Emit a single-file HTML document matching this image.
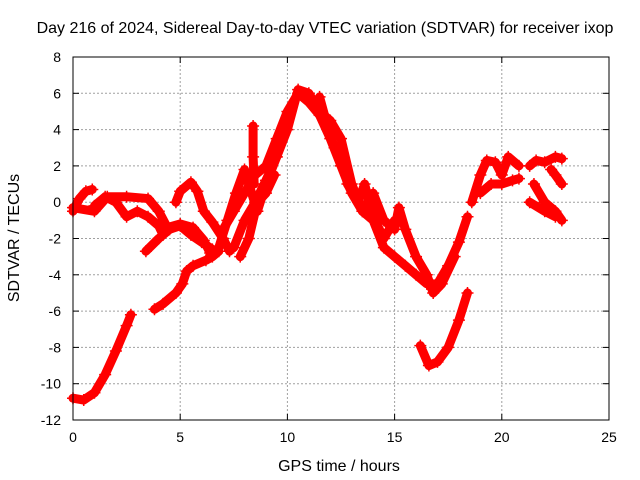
<!DOCTYPE html>
<html><head><meta charset="utf-8"><style>
body{margin:0;background:#fff;}
svg{display:block;font-family:"Liberation Sans",sans-serif;}
</style></head><body>
<svg id="chart" width="640" height="480">
<text x="325" y="33" font-size="16" text-anchor="middle">Day 216 of 2024, Sidereal Day-to-day VTEC variation (SDTVAR) for receiver ixop</text>
<text x="339" y="471" font-size="16" text-anchor="middle">GPS time / hours</text>
<text transform="translate(19,238) rotate(-90)" font-size="16" text-anchor="middle">SDTVAR / TECUs</text>
<g id="grid"></g><g id="ticks"></g><g id="series"></g>
<rect x="73" y="57" width="536" height="363" fill="none" stroke="#000"/>
</svg>
<script>
const xTicks=[0,5,10,15,20,25];
const yTicks=[-12,-10,-8,-6,-4,-2,0,2,4,6,8];
const trackA=[[0,-10.8],[0.5,-10.9],[1,-10.5],[1.5,-9.5],[2,-8.2],[2.5,-6.8],[2.7,-6.2]];
const trackB=[[3.8,-5.9],[4.2,-5.6],[4.8,-5],[5.1,-4.5],[5.3,-3.8],[5.6,-3.5],[6.2,-3.2],[6.5,-3],[6.8,-2.7]];
const trackC=[[0,-0.5],[0.3,0.2],[0.6,0.6],[0.9,0.7]];
const trackD=[[0,-0.3],[1,-0.5],[1.6,0.3],[2.5,0.3],[3.5,0.2],[4,-0.5],[4.4,-1.4],[5,-1.2],[5.6,-1.4],[6.1,-2.1],[6.4,-2.8]];
const trackE=[[1,-0.2],[1.5,0.3],[2,0],[2.5,-0.8],[3,-0.5],[3.5,-0.8],[4,-1.3],[4.2,-1.8]];
const trackF=[[3.4,-2.7],[4,-2],[4.5,-1.5],[5,-1.3],[5.5,-1.8],[6,-2.2],[6.5,-2.6]];
const trackG=[[4.8,0],[5,0.6],[5.5,1.1],[5.8,0.6],[6.1,-0.5],[6.5,-1.1],[7,-2],[7.3,-2.7]];
const trackH=[[7,-1.5],[7.5,-0.5],[8,0.5],[8.5,1.5],[9,2],[9.5,3.5],[10,5],[10.5,6],[11,5.5],[11.5,4.8],[12,3.5],[12.5,2],[13,0.5],[13.5,-0.5],[14,-1],[14.5,-2.5],[15,-3],[15.5,-3.5],[16,-4],[16.5,-4.5],[17,-4.5],[17.5,-3.5],[18,-2.2],[18.4,-0.8]];
const trackI=[[7.5,-2.5],[8,-1],[8.5,0],[9,1.2],[9.5,2.5],[10,4],[10.5,6.2],[11,6],[11.5,5],[12,4.5],[12.5,3.5],[13,1],[13.5,-0.5],[14,0.5],[14.5,-1],[15,-1.5],[15.2,-0.3],[15.5,-1.5],[16,-3],[16.5,-4],[16.8,-5],[17.2,-4.5],[17.8,-3]];
const trackJ=[[8.4,4.2],[8.4,2.5],[8.45,1]];
const trackK=[[16.2,-7.9],[16.6,-9],[17,-8.8],[17.5,-8],[18,-6.5],[18.4,-5]];
const trackL=[[18.6,0],[19,1.5],[19.3,2.3],[19.7,2.2],[20,1.5],[20.3,2.5],[20.8,2]];
const trackM=[[19,0.5],[19.5,1],[20,1],[20.5,1.2],[20.8,1.3]];
const trackN=[[21.3,2],[21.6,2.3],[22,2.2],[22.5,2.5],[22.8,2.4]];
const trackO=[[21.5,1],[22,0],[22.5,-0.5],[22.8,-1]];
const trackP=[[21.3,0],[22,-0.5],[22.5,-0.8]];
const trackQ=[[22.3,1.8],[22.5,1.5],[22.8,1]];
const trackR=[[6.8,-2.5],[7.2,-1],[7.6,0.5],[8,1.8],[8.2,1],[8.6,-0.5],[9,1],[9.5,2.5]];
const trackS=[[7.8,-3],[8.2,-2],[8.6,0],[9,0.5],[9.4,1.5]];
const trackT=[[11.5,5.8],[11.8,4.5],[12.2,3],[12.5,2.8],[12.8,1],[13.3,0],[13.6,1],[14,-0.8],[14.5,-2],[15,-1]];
const tracks=[trackA,trackB,trackC,trackD,trackE,trackF,trackG,trackH,trackI,trackJ,trackK,trackL,trackM,trackN,trackO,trackP,trackQ,trackR,trackS,trackT];
const X=v=>73+v/25*536, Y=v=>420-(v+12)/20*363;
const NS="http://www.w3.org/2000/svg";
const grid=document.getElementById('grid'),ticks=document.getElementById('ticks'),ser=document.getElementById('series');
function mk(tag,at,par){const e=document.createElementNS(NS,tag);for(const k in at)e.setAttribute(k,at[k]);par.appendChild(e);return e;}
xTicks.forEach(t=>{
 const g=mk('line',{x1:X(t),x2:X(t),y1:57,y2:420,stroke:'#a0a0a0','stroke-dasharray':'2,2'},grid);
 
 
 const l=mk('text',{x:X(t),y:442,'font-size':14,'text-anchor':'middle'},ticks);l.textContent=t;
 
 
 mk('line',{x1:X(t),x2:X(t),y1:420,y2:414,stroke:'#000'},ticks);
 mk('line',{x1:X(t),x2:X(t),y1:57,y2:63,stroke:'#000'},ticks);
});
yTicks.forEach(t=>{
 const g=mk('line',{x1:73,x2:609,y1:Y(t),y2:Y(t),stroke:'#a0a0a0','stroke-dasharray':'2,2'},grid);
 
 
 const l=mk('text',{x:61,y:Y(t)+5,'font-size':14,'text-anchor':'end'},ticks);l.textContent=t;
 
 
 mk('line',{x1:73,x2:79,y1:Y(t),y2:Y(t),stroke:'#000'},ticks);
 mk('line',{x1:609,x2:603,y1:Y(t),y2:Y(t),stroke:'#000'},ticks);
});
tracks.forEach(tr=>{
 const p=mk('polyline',{points:tr.map(d=>X(d[0])+','+Y(d[1])).join(' '),fill:'none',stroke:'#f00','stroke-width':9,'stroke-linejoin':'round','stroke-linecap':'round'},ser);
 
 
 tr.forEach(d=>{
  const m=mk('path',{d:`M${X(d[0])-6},${Y(d[1])}h12M${X(d[0])},${Y(d[1])-6}v12`,stroke:'#f00','stroke-width':1.5},ser);
  
  
 });
});
</script>
</body></html>
